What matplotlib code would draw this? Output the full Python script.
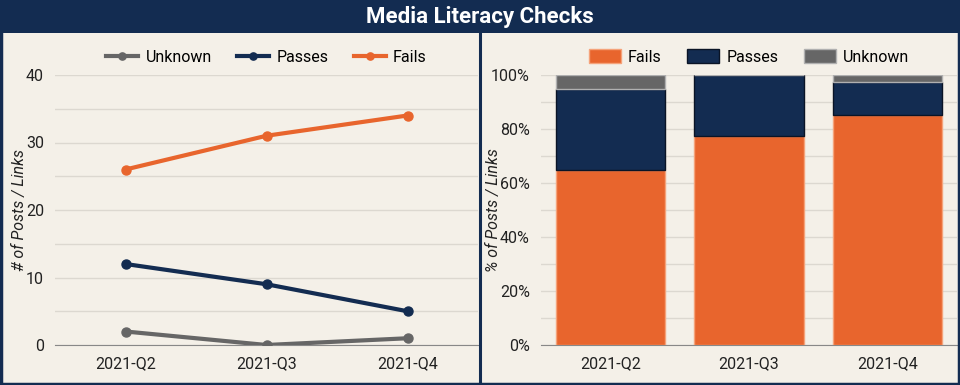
import matplotlib
matplotlib.use("Agg")
import matplotlib.pyplot as plt
from matplotlib.patches import Rectangle
from matplotlib.lines import Line2D
from matplotlib.ticker import PercentFormatter, MultipleLocator
import numpy as np

plt.rcParams['font.family'] = ['Roboto', 'DejaVu Sans']

quarters = ["2021-Q2", "2021-Q3", "2021-Q4"]
unknown = [2, 0, 1]
passes = [12, 9, 5]
fails = [26, 31, 34]

title = "Media Literacy Checks"
NAVY = "#132c51"
ORANGE = "#e8652d"
GRAY = "#666666"
BG = "#f4f0e8"
GRID = "#dcd8d0"
TXT = "#222222"

W, H = 960, 385
fig = plt.figure(figsize=(9.6, 3.85), dpi=100, facecolor=BG)

def fx(px): return px / W
def fy(py): return 1 - py / H

FS = 11.5

# title bar
fig.patches.append(Rectangle((0, fy(33)), 1, 33 / H, transform=fig.transFigure,
                             facecolor=NAVY, edgecolor='none', zorder=0))
fig.text(0.5, fy(17.5), title, ha='center', va='center', color='white',
         fontsize=16, fontweight='bold')
# divider
fig.add_artist(Line2D([fx(480), fx(480)], [0, fy(33)], transform=fig.transFigure,
                      color=NAVY, lw=2.2))
# border
fig.patches.append(Rectangle((0.001, 0.002), 0.998, 0.996, transform=fig.transFigure,
                             facecolor='none', edgecolor=NAVY, lw=2.5, zorder=10))

x = np.arange(len(quarters))

# ---- left line chart
ax1 = fig.add_axes([fx(55), fy(345), fx(478 - 55), (345 - 75) / H])
ax1.set_facecolor(BG)
ax1.plot(x, unknown, color=GRAY, lw=3, marker='o', ms=6.5, label='Unknown', zorder=3)
ax1.plot(x, passes, color=NAVY, lw=3, marker='o', ms=6.5, label='Passes', zorder=3)
ax1.plot(x, fails, color=ORANGE, lw=3, marker='o', ms=6.5, label='Fails', zorder=3)
ax1.set_xlim(-0.5, 2.5)
ax1.set_ylim(0, 40)
ax1.yaxis.set_major_locator(MultipleLocator(10))
ax1.yaxis.set_minor_locator(MultipleLocator(5))
ax1.grid(True, which='both', axis='y', color=GRID, lw=1)
ax1.set_axisbelow(True)
ax1.set_xticks(x)
ax1.set_xticklabels(quarters)
for s in ['top', 'right', 'left']:
    ax1.spines[s].set_visible(False)
ax1.spines['bottom'].set_color('#888888')
ax1.tick_params(axis='both', which='both', length=0, labelsize=FS, colors=TXT, pad=8)
ax1.set_ylabel('# of Posts / Links', fontsize=FS, style='italic', color=TXT)
ax1.yaxis.set_label_coords((27 - 55) / 423, 0.5)
leg1 = ax1.legend(loc='center', bbox_to_anchor=(0.5, (345 - 57) / 270), ncol=3,
                  frameon=False, fontsize=FS, handlelength=2.0, columnspacing=1.6,
                  handletextpad=0.45, markerscale=0.8)

# ---- right stacked percent chart
tot = np.array(unknown) + np.array(passes) + np.array(fails)
f_pct = np.array(fails) / tot * 100
p_pct = np.array(passes) / tot * 100
u_pct = np.array(unknown) / tot * 100

ax2 = fig.add_axes([fx(541), fy(345), fx(957 - 541), (345 - 75) / H])
ax2.set_facecolor(BG)
bw = 0.79
ax2.bar(x, f_pct, bw, color=ORANGE, edgecolor='#f5a37a', lw=1, label='Fails', zorder=3)
ax2.bar(x, p_pct, bw, bottom=f_pct, color=NAVY, edgecolor='#0a1426', lw=1,
        label='Passes', zorder=3)
ax2.bar(x, u_pct, bw, bottom=f_pct + p_pct, color=GRAY, edgecolor='#b0b0b0', lw=1,
        label='Unknown', zorder=3)
ax2.set_xlim(-0.5, 2.5)
ax2.set_ylim(0, 100)
ax2.yaxis.set_major_locator(MultipleLocator(20))
ax2.yaxis.set_minor_locator(MultipleLocator(10))
ax2.yaxis.set_major_formatter(PercentFormatter(decimals=0))
ax2.grid(True, which='both', axis='y', color=GRID, lw=1)
ax2.set_axisbelow(True)
ax2.set_xticks(x)
ax2.set_xticklabels(quarters)
for s in ['top', 'right', 'left']:
    ax2.spines[s].set_visible(False)
ax2.spines['bottom'].set_color('#888888')
ax2.tick_params(axis='both', which='both', length=0, labelsize=FS, colors=TXT, pad=8)
ax2.set_ylabel('% of Posts / Links', fontsize=FS, style='italic', color=TXT)
ax2.yaxis.set_label_coords((501 - 541) / 416, 0.5)
ax2.legend(loc='center', bbox_to_anchor=(0.5, (345 - 57) / 270), ncol=3,
           frameon=False, fontsize=FS, handlelength=2.0, handleheight=1.0,
           columnspacing=1.6, handletextpad=0.45)

fig.savefig('out.png', dpi=100, facecolor=BG)
